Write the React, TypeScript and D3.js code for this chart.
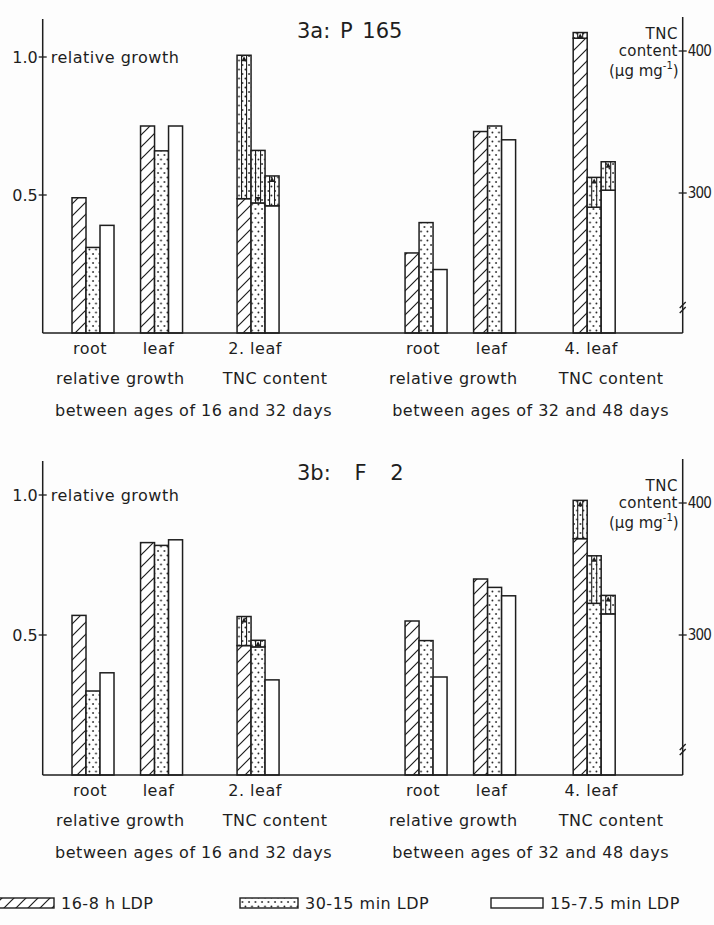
import * as d3 from "d3";

// categories
const seriesNames = ["16-8 h LDP", "30-15 min LDP", "15-7.5 min LDP"];
const groupLabels = ["root", "leaf", "2. leaf", "root", "leaf", "4. leaf"];
const periodLabels = ["between ages of 16 and 32 days", "between ages of 32 and 48 days"];

// 3a: P 165 — relative growth (left axis)
const p165RootEarly = [0.49, 0.31, 0.39];
const p165LeafEarly = [0.75, 0.66, 0.75];
const p165RootLate = [0.29, 0.4, 0.23];
const p165LeafLate = [0.73, 0.75, 0.7];
// 3a: TNC content (right axis), start -> end, arrow direction
const p165TncEarlyFrom = [296, 293, 291];
const p165TncEarlyTo = [397, 330, 312];
const p165TncEarlyDir = ["up", "down", "up"];
const p165TncLateFrom = [409, 290, 302];
const p165TncLateTo = [413, 311, 322];
const p165TncLateDir = ["up", "up", "up"];

// 3b: F 2
const f2RootEarly = [0.57, 0.3, 0.365];
const f2LeafEarly = [0.83, 0.82, 0.84];
const f2RootLate = [0.55, 0.48, 0.35];
const f2LeafLate = [0.7, 0.67, 0.64];
const f2TncEarlyFrom = [292, 291, 266];
const f2TncEarlyTo = [314, 296, null];
const f2TncEarlyDir = ["up", "up", "up"];
const f2TncLateFrom = [373, 324, 316];
const f2TncLateTo = [402, 360, 330];
const f2TncLateDir = ["up", "up", "up"];

const W = 714;
const H = 925;
const AXIS_L = 42.7;
const AXIS_R = 682.7;
const INK = "#1e1e1e";
const FONT = "'DejaVu Sans', sans-serif";
const NARROW = "'DejaVu Sans Condensed', 'DejaVu Sans', sans-serif";
const LS = 0.5;

const panels = [
  {
    title: "3a: P 165",
    titleSpacing: 3,
    base: 333,
    leftPx: 276,
    right400: 282,
    growth: [p165RootEarly, p165LeafEarly, p165RootLate, p165LeafLate],
    tnc: [
      { from: p165TncEarlyFrom, to: p165TncEarlyTo, dir: p165TncEarlyDir },
      { from: p165TncLateFrom, to: p165TncLateTo, dir: p165TncLateDir },
    ],
  },
  {
    title: "3b: F 2",
    titleSpacing: 17,
    base: 775,
    leftPx: 280,
    right400: 272,
    growth: [f2RootEarly, f2LeafEarly, f2RootLate, f2LeafLate],
    tnc: [
      { from: f2TncEarlyFrom, to: f2TncEarlyTo, dir: f2TncEarlyDir },
      { from: f2TncLateFrom, to: f2TncLateTo, dir: f2TncLateDir },
    ],
  },
];

// horizontal layout of the six groups as fraction of the axis span
const x = d3.scaleLinear().domain([0, 1]).range([AXIS_L, AXIS_R]);
const groupFrac = [0.0786, 0.1857, 0.3365, 0.599, 0.7061, 0.8617];
const inner = d3.scaleBand().domain(seriesNames).range([-21, 21]);
const fills = ["url(#hatch)", "url(#dots)", "#fff"];

const Arrow = ({ cx, yTop, yBot, dir }) => {
  const h = Math.min(5, yBot - yTop - 1);
  const pts =
    dir === "up"
      ? [[cx - 2.6, yTop + 1 + h], [cx + 2.6, yTop + 1 + h], [cx, yTop + 1]]
      : [[cx - 2.6, yBot - 1 - h], [cx + 2.6, yBot - 1 - h], [cx, yBot - 1]];
  return (
    <g>
      <line x1={cx - 2.5} x2={cx - 2.5} y1={yTop} y2={yBot} stroke={INK} strokeWidth={1.1} />
      <line x1={cx + 2.5} x2={cx + 2.5} y1={yTop} y2={yBot} stroke={INK} strokeWidth={1.1} />
      <polygon points={pts.map((p) => p.join(",")).join(" ")} fill={INK} />
    </g>
  );
};

const Label = ({ children, ...rest }) => (
  <text dominantBaseline="central" fontSize={16} letterSpacing={LS} {...rest}>
    {children}
  </text>
);

const Panel = ({ p }) => {
  const yL = d3.scaleLinear().domain([0, 1]).range([p.base, p.base - p.leftPx]);
  const yR = d3.scaleLinear().domain([300, 400]).range([p.base - 140, p.base - p.right400]);
  const growthGroups = [0, 1, 3, 4];
  const tncGroups = [2, 5];
  const top = p.base - 314;
  const t400 = yR(400);
  return (
    <g>
      <text x={297} y={p.base - 302} fontSize={21} dominantBaseline="central" style={{ wordSpacing: `${p.titleSpacing}px` }}>
        {p.title}
      </text>
      {/* relative growth bars */}
      {growthGroups.map((g, k) =>
        p.growth[k].map((v, i) => (
          <rect
            key={`${g}-${i}`}
            x={x(groupFrac[g]) + inner(seriesNames[i])}
            y={yL(v)}
            width={inner.bandwidth()}
            height={p.base - yL(v)}
            fill={fills[i]}
            stroke={INK}
            strokeWidth={1.5}
          />
        ))
      )}
      {/* TNC content bars */}
      {tncGroups.map((g, k) => {
        const d = p.tnc[k];
        return d.from.map((v, i) => {
          const bx = x(groupFrac[g]) + inner(seriesNames[i]);
          const bw = inner.bandwidth();
          const to = d.to[i];
          return (
            <g key={`${g}-${i}`}>
              <rect x={bx} y={yR(v)} width={bw} height={p.base - yR(v)} fill={fills[i]} stroke={INK} strokeWidth={1.5} />
              {to != null && (
                <g>
                  <rect x={bx} y={yR(to)} width={bw} height={yR(v) - yR(to)} fill="url(#dots)" stroke={INK} strokeWidth={1.5} />
                  <Arrow cx={bx + bw / 2} yTop={yR(to)} yBot={yR(v)} dir={d.dir[i]} />
                </g>
              )}
            </g>
          );
        });
      })}
      {/* axes */}
      <line x1={AXIS_L} x2={AXIS_L} y1={top} y2={p.base} stroke={INK} strokeWidth={1.5} />
      <line x1={AXIS_R} x2={AXIS_R} y1={top - 2} y2={p.base} stroke={INK} strokeWidth={1.5} />
      <line x1={AXIS_L} x2={AXIS_R} y1={p.base} y2={p.base} stroke={INK} strokeWidth={1.6} />
      {[0.5, 1.0].map((t) => (
        <g key={t}>
          <line x1={AXIS_L - 4} x2={AXIS_L + 4} y1={yL(t)} y2={yL(t)} stroke={INK} strokeWidth={1.3} />
          <Label x={AXIS_L - 5} y={yL(t)} textAnchor="end" letterSpacing={0}>
            {d3.format(".1f")(t)}
          </Label>
        </g>
      ))}
      <Label x={AXIS_L + 8} y={yL(1)}>relative growth</Label>
      {[300, 400].map((t) => (
        <g key={t}>
          <line x1={AXIS_R - 4} x2={AXIS_R + 4} y1={yR(t)} y2={yR(t)} stroke={INK} strokeWidth={1.3} />
          <text x={AXIS_R + 5} y={yR(t)} dominantBaseline="central" fontSize={15} fontFamily={NARROW} letterSpacing={-0.8}>
            {t}
          </text>
        </g>
      ))}
      <Label x={AXIS_R - 21} y={t400 - 17} textAnchor="middle" fontSize={15}>TNC</Label>
      <Label x={AXIS_R - 5} y={t400} textAnchor="end" fontSize={15} letterSpacing={0.2}>content</Label>
      <Label x={AXIS_R - 4} y={t400 + 20} textAnchor="end" fontSize={15} letterSpacing={0}>
        (µg mg<tspan dy={-6} fontSize={10}>-1</tspan>
        <tspan dy={6}>)</tspan>
      </Label>
      {/* axis break */}
      {[0, 5].map((o) => (
        <line key={o} x1={AXIS_R - 3} x2={AXIS_R + 3} y1={p.base - 20 - o} y2={p.base - 26 - o} stroke={INK} strokeWidth={1.3} />
      ))}
      {/* category labels */}
      {groupLabels.map((lab, g) => (
        <Label key={g} x={x(groupFrac[g]) - 3} y={p.base + 15} textAnchor="middle">
          {lab}
        </Label>
      ))}
      {[0, 1].map((h) => (
        <g key={h}>
          <Label x={(x(groupFrac[h * 3]) + x(groupFrac[h * 3 + 1])) / 2 - 7} y={p.base + 45} textAnchor="middle">
            relative growth
          </Label>
          <Label x={x(groupFrac[h * 3 + 2]) + 17} y={p.base + 45} textAnchor="middle">
            TNC content
          </Label>
          <Label x={x(groupFrac[h * 3 + 1]) + 32 + h * 4} y={p.base + 77} textAnchor="middle">
            {periodLabels[h]}
          </Label>
        </g>
      ))}
    </g>
  );
};

export default function App() {
  const legendX = [-4, 240, 491];
  const legendW = [58, 58, 52];
  return (
    <svg
      width={W}
      height={H}
      style={{ position: "absolute", left: 0, top: 0, background: "#fdfdfd" }}
      fontFamily={FONT}
      fill={INK}
    >
      <defs>
        <pattern id="hatch" patternUnits="userSpaceOnUse" width={12} height={12}>
          <rect width={12} height={12} fill="#fff" />
          <path d="M-1,13 L13,-1 M-3,3 L3,-3 M9,15 L15,9" stroke={INK} strokeWidth={1.2} />
        </pattern>
        <pattern id="dots" patternUnits="userSpaceOnUse" width={6.5} height={9}>
          <rect width={6.5} height={9} fill="#fff" />
          <circle cx={2} cy={2} r={0.9} fill={INK} />
          <circle cx={5} cy={6.5} r={0.9} fill={INK} />
        </pattern>
      </defs>
      <rect width={W} height={H} fill="#fdfdfd" />
      {panels.map((p) => (
        <Panel key={p.title} p={p} />
      ))}
      {seriesNames.map((s, i) => (
        <g key={s}>
          <rect x={legendX[i]} y={898} width={legendW[i]} height={10} fill={fills[i]} stroke={INK} strokeWidth={1.4} />
          <Label x={legendX[i] + legendW[i] + 7} y={903}>
            {s}
          </Label>
        </g>
      ))}
    </svg>
  );
}
